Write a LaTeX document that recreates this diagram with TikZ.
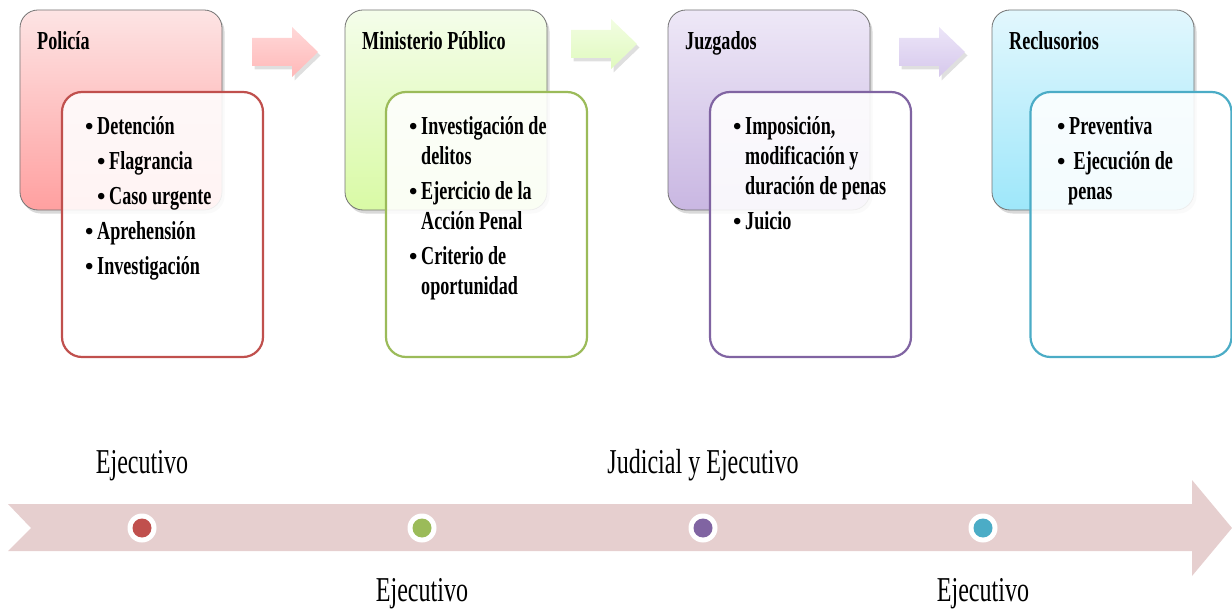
\documentclass[tikz,border=0pt]{standalone}
\usepackage{fontspec}
\setmainfont{Liberation Serif}
\newfontfamily\boxfont[FakeStretch=0.70]{Liberation Serif}
\newfontfamily\labfont[FakeStretch=0.69]{Liberation Serif}
\newfontfamily\bulfont{Liberation Serif}
\usetikzlibrary{shadows}
\definecolor{cred}{HTML}{C0504D}
\definecolor{cgreen}{HTML}{9BBB59}
\definecolor{cpurple}{HTML}{8064A2}
\definecolor{cblue}{HTML}{4BACC6}
\definecolor{redtop}{RGB}{253,228,228}
\definecolor{redbot}{RGB}{255,160,160}
\definecolor{greentop}{RGB}{244,253,234}
\definecolor{greenbot}{RGB}{217,250,165}
\definecolor{purptop}{RGB}{238,232,247}
\definecolor{purpbot}{RGB}{201,183,226}
\definecolor{bluetop}{RGB}{226,247,253}
\definecolor{bluebot}{RGB}{158,231,250}
\definecolor{arrAt}{RGB}{255,216,216}
\definecolor{arrAb}{RGB}{255,184,184}
\definecolor{arrBt}{RGB}{242,253,226}
\definecolor{arrBb}{RGB}{224,250,190}
\definecolor{arrCt}{RGB}{236,229,248}
\definecolor{arrCb}{RGB}{214,200,236}
\definecolor{band}{RGB}{230,207,207}
\newcommand{\bul}{\makebox[12bp][l]{\bulfont\bfseries\fontsize{24}{24}\selectfont•}}
\begin{document}
\begin{tikzpicture}[x=1bp,y=-1bp,
  outerbox/.style={draw=black!55, line width=0.8bp, rounded corners=18bp,
    minimum width=202bp, minimum height=200bp, inner sep=0,
    drop shadow={shadow xshift=2.5bp, shadow yshift=-3.5bp, opacity=0.3}},
  innerbox/.style={draw=#1, line width=2.2bp, rounded corners=20bp,
    fill=white, fill opacity=0.88,
    minimum width=201bp, minimum height=265bp, inner sep=0},
  pics/flowarr/.style 2 args={code={
    \path[top color=#1, bottom color=#2,
      drop shadow={shadow xshift=2.5bp, shadow yshift=-3.5bp, opacity=0.25}]
      (-33,-14) -- (7,-14) -- (7,-25) -- (33,0) -- (7,25) -- (7,14) -- (-33,14) -- cycle;
  }},
  txt/.style={anchor=base west, inner sep=0, font=\boxfont\bfseries\fontsize{26}{30}\selectfont},
  lab/.style={anchor=base, inner sep=0, font=\labfont\fontsize{35}{40}\selectfont},
  ring/.style={circle, fill=white, minimum size=29bp, inner sep=0},
  dot/.style={circle, fill=#1, minimum size=19bp, inner sep=0}
]
\useasboundingbox (0,0) rectangle (1232,610);

% header boxes
\node[outerbox, top color=redtop, bottom color=redbot] (o1) at (121,110) {};
\node[outerbox, top color=greentop, bottom color=greenbot] (o2) at (446,110) {};
\node[outerbox, top color=purptop, bottom color=purpbot] (o3) at (769,110) {};
\node[outerbox, top color=bluetop, bottom color=bluebot] (o4) at (1093,110) {};

% arrows between
\pic (a1) at (285,52) {flowarr={arrAt}{arrAb}};
\pic (a2) at (604,44) {flowarr={arrBt}{arrBb}};
\pic (a3) at (932,52) {flowarr={arrCt}{arrCb}};

% detail boxes
\node[innerbox=cred] (i1) at (162.5,224.5) {};
\node[innerbox=cgreen] (i2) at (486.5,224.5) {};
\node[innerbox=cpurple] (i3) at (810.5,224.5) {};
\node[innerbox=cblue] (i4) at (1131,224.5) {};

% titles
\node[txt] (t1) at (37,50) {Policía};
\node[txt] (t2) at (362,50) {Ministerio Público};
\node[txt] (t3) at (685,50) {Juzgados};
\node[txt] (t4) at (1009,50) {Reclusorios};

% box 1
\node[txt] (p1) at (85,135) {\bul Detención};
\node[txt] (p2) at (97,170) {\bul Flagrancia};
\node[txt] (p3) at (97,205) {\bul Caso urgente};
\node[txt] (p4) at (85,240) {\bul Aprehensión};
\node[txt] (p5) at (85,275) {\bul Investigación};

% box 2
\node[txt] (m1) at (409,135) {\bul Investigación de};
\node[txt] (m2) at (421,165) {delitos};
\node[txt] (m3) at (409,200) {\bul Ejercicio de la};
\node[txt] (m4) at (421,230) {Acción Penal};
\node[txt] (m5) at (409,265) {\bul Criterio de};
\node[txt] (m6) at (421,295) {oportunidad};

% box 3
\node[txt] (j1) at (733,135) {\bul Imposición,};
\node[txt] (j2) at (745,165) {modificación y};
\node[txt] (j3) at (745,195) {duración de penas};
\node[txt] (j4) at (733,230) {\bul Juicio};

% box 4
\node[txt] (r1) at (1057,135) {\bul Preventiva};
\node[txt] (r2) at (1057,170) {\bul\ Ejecución de};
\node[txt] (r3) at (1068,200) {penas};

% timeline
\path[fill=band] (8,504) -- (1192,504) -- (1192,480) -- (1232,528) -- (1192,576)
  -- (1192,551) -- (8,551) -- (31,528) -- cycle;
\node[ring] (d1) at (142,528) {};
\node[ring] (d2) at (422,528) {};
\node[ring] (d3) at (703,528) {};
\node[ring] (d4) at (983,528) {};
\node[dot=cred] at (d1) {};
\node[dot=cgreen] at (d2) {};
\node[dot=cpurple] at (d3) {};
\node[dot=cblue] at (d4) {};

\node[lab] (l1) at (142,473) {Ejecutivo};
\node[lab] (l2) at (703,473) {Judicial y Ejecutivo};
\node[lab] (l3) at (422,601) {Ejecutivo};
\node[lab] (l4) at (983,601) {Ejecutivo};
\end{tikzpicture}
\end{document}
